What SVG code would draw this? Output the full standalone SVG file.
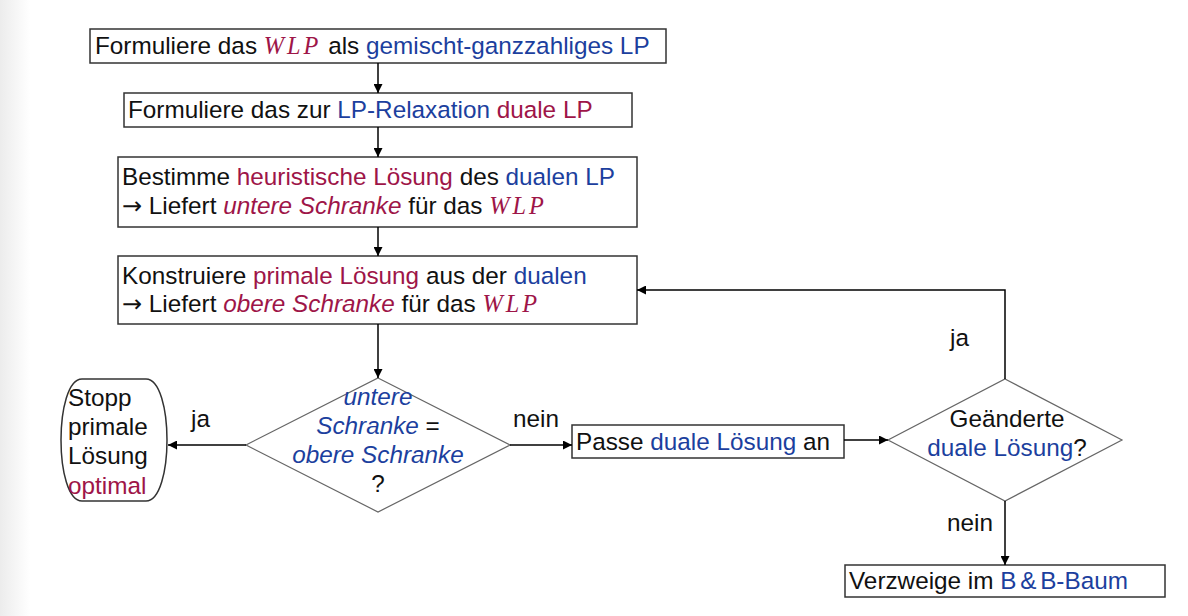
<svg xmlns="http://www.w3.org/2000/svg" width="1188" height="616" viewBox="0 0 1188 616">
<defs>
<linearGradient id="lg" x1="0" x2="1" y1="0" y2="0"><stop offset="0" stop-color="#ececec"/><stop offset="1" stop-color="#ffffff"/></linearGradient>
<marker id="ah" viewBox="0 0 10 10" refX="10" refY="5" markerWidth="9" markerHeight="9" markerUnits="userSpaceOnUse" orient="auto"><path d="M0,0 L10,5 L0,10 z" fill="#000"/></marker>
<style>
text{font-family:"Liberation Sans",Arial,sans-serif;font-size:24.3px;fill:#111}
.r{fill:#9e1548}.b{fill:#1c3f9e}.i{font-style:italic}
.m{font-family:"Liberation Serif","Times New Roman",serif;font-style:italic;fill:#9e1548;letter-spacing:3px}
.ar{font-family:"DejaVu Sans",sans-serif;font-size:24px}
.box{fill:#fff;stroke:#333;stroke-width:1.5}
.dia{fill:#fff;stroke:#666;stroke-width:1.2}
.con{fill:none;stroke:#000;stroke-width:1.5}
</style>
</defs>
<rect width="1188" height="616" fill="#fff"/>
<rect width="30" height="616" fill="url(#lg)"/>
<g id="n1"><rect class="box" x="90" y="29" width="576" height="34"/>
<text x="95" y="54">Formuliere das <tspan class="m">WLP</tspan> als <tspan class="b">gemischt-ganzzahliges LP</tspan></text></g>
<g id="n2"><rect class="box" x="124" y="93" width="508" height="34"/>
<text x="128" y="118">Formuliere das zur <tspan class="b">LP-Relaxation</tspan> <tspan class="r">duale LP</tspan></text></g>
<g id="n3"><rect class="box" x="118" y="157" width="519" height="70"/>
<text x="122" y="185">Bestimme <tspan class="r">heuristische Lösung</tspan> des <tspan class="b">dualen LP</tspan></text>
<text x="122" y="214"><tspan class="ar">→</tspan> Liefert <tspan class="r i">untere Schranke</tspan> für das <tspan class="m">WLP</tspan></text></g>
<g id="n4"><rect class="box" x="118" y="256" width="519" height="68"/>
<text x="122" y="284">Konstruiere <tspan class="r">primale Lösung</tspan> aus der <tspan class="b">dualen</tspan></text>
<text x="122" y="312"><tspan class="ar">→</tspan> Liefert <tspan class="r i">obere Schranke</tspan> für das <tspan class="m">WLP</tspan></text></g>
<g id="d1"><polygon class="dia" points="378,378 510,445 378,512 246,445"/>
<text x="378" y="405" text-anchor="middle" class="b i">untere</text>
<text x="378" y="434" text-anchor="middle"><tspan class="b i">Schranke</tspan> =</text>
<text x="378" y="463" text-anchor="middle" class="b i">obere Schranke</text>
<text x="378" y="492" text-anchor="middle">?</text></g>
<g id="stop"><path class="box" stroke-width="1.2" d="M82,379 L146,379 C160,379 167,410 167,440 C167,470 160,501 146,501 L82,501 C68,501 61,470 61,440 C61,410 68,379 82,379 Z"/>
<text x="68" y="406">Stopp</text>
<text x="68" y="435">primale</text>
<text x="68" y="464">Lösung</text>
<text x="68" y="494" class="r">optimal</text></g>
<g id="n5"><rect class="box" x="572" y="425" width="272" height="33"/>
<text x="576" y="450">Passe <tspan class="b">duale Lösung</tspan> an</text></g>
<g id="d2"><polygon class="dia" points="1005,379 1122,440 1005,501 888,440"/>
<text x="1007" y="427" text-anchor="middle">Geänderte</text>
<text x="1007" y="456" text-anchor="middle"><tspan class="b">duale Lösung</tspan>?</text></g>
<g id="n6"><rect class="box" x="845" y="565" width="320" height="32"/>
<text x="849" y="589">Verzweige im <tspan class="b" word-spacing="-3">B &amp; B-Baum</tspan></text></g>
<g id="connectors">
<line class="con" x1="378" y1="63" x2="378" y2="93" marker-end="url(#ah)"/>
<line class="con" x1="378" y1="127" x2="378" y2="157" marker-end="url(#ah)"/>
<line class="con" x1="378" y1="227" x2="378" y2="256" marker-end="url(#ah)"/>
<line class="con" x1="378" y1="324" x2="378" y2="378" marker-end="url(#ah)"/>
<line class="con" x1="246" y1="445" x2="168" y2="445" marker-end="url(#ah)"/>
<line class="con" x1="510" y1="445" x2="572" y2="445" marker-end="url(#ah)"/>
<line class="con" x1="844" y1="440" x2="888" y2="440" marker-end="url(#ah)"/>
<polyline class="con" points="1005,379 1005,290 637,290" marker-end="url(#ah)"/>
<line class="con" x1="1005" y1="501" x2="1005" y2="565" marker-end="url(#ah)"/>
<text x="191" y="427">ja</text>
<text x="513" y="427">nein</text>
<text x="950" y="346">ja</text>
<text x="947" y="531">nein</text>
</g>
</svg>
